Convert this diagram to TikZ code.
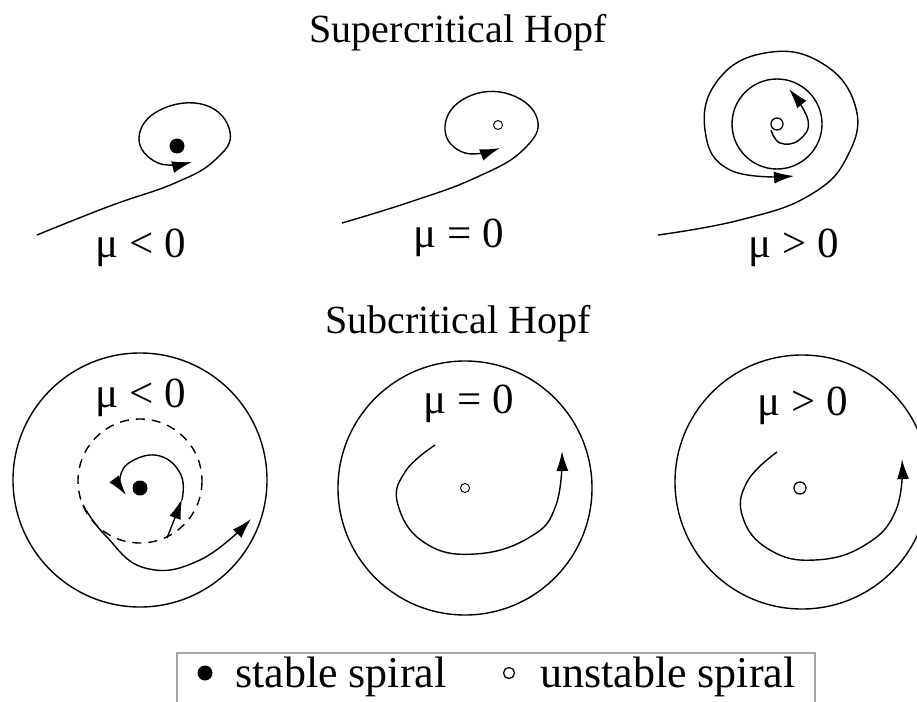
\documentclass[tikz,border=0pt]{standalone}
\usepackage{fontspec}
\setmainfont{Liberation Serif}
\usetikzlibrary{arrows.meta,positioning}

\begin{document}
\begin{tikzpicture}[x=1pt, y=-1pt,
    orbit/.style={line width=1.4pt},
    flow/.style={orbit, -{Latex[length=20pt, width=12pt]}},
    ring/.style={line width=1.4pt},
    unstablering/.style={ring, dash pattern=on 9pt off 7pt},
    stable/.style={circle, fill, inner sep=0pt, minimum size=15pt},
    unstable/.style={circle, draw, line width=1.3pt, inner sep=0pt, minimum size=12pt},
    title/.style={font=\fontsize{40}{48}\selectfont, anchor=base},
    param/.style={font=\fontsize{43}{50}\selectfont, anchor=base west, inner sep=0pt},
    key/.style={font=\fontsize{44}{52}\selectfont, anchor=base west, inner sep=0pt}
]
    \useasboundingbox (0,0) rectangle (917,701);
    \clip (0,0) rectangle (917,701);

    % supercritical row
    \node[title] (super) at (458,43) {Supercritical Hopf};

    \node[stable] (supneg) at (177,146) {};
    \draw[flow] plot[smooth, tension=0.75] coordinates {(37,235) (110,206) (175,183) (215,160) (230,132) (205,105) (160,110) (139,138) (158,163) (192,162)};
    \node[param] (supneglab) at (95,257) {μ < 0};

    \node[unstable, minimum size=9pt, line width=0.9pt] (supzero) at (498,125) {};
    \draw[flow] plot[smooth, tension=0.75] coordinates {(342,223) (410,202) (475,178) (523,150) (537,118) (505,93) (462,100) (445,130) (465,153) (500,148)};
    \node[param] (supzerolab) at (413,247) {μ = 0};

    \node[unstable] (suppos) at (777,124) {};
    \draw[ring] (777,124) circle[radius=45];
    \draw[flow] plot[smooth, tension=0.75] coordinates {(658,235) (740,220) (810,195) (848,155) (855,105) (820,62) (765,53) (718,80) (705,130) (730,170) (794,176)};
    \draw[flow] plot[smooth, tension=0.75] coordinates {(771,130) (780,143) (799,140) (808,120) (789,89)};
    \node[param] (supposlab) at (748,257) {μ > 0};

    % subcritical row
    \node[title] (sub) at (458,333) {Subcritical Hopf};

    \draw[ring] (140,480) circle[radius=127];
    \draw[unstablering] (140,481) circle[radius=62];
    \node[stable] (subneg) at (140,488) {};
    \draw[flow] plot[smooth, tension=0.75] coordinates {(167,538) (176,515) (182,499)};
    \draw[flow] plot[smooth, tension=0.75] coordinates {(182,500) (181,475) (160,456) (132,461) (120,478) (126,495)};
    \draw[flow] plot[smooth, tension=0.75] coordinates {(83,505) (105,535) (145,568) (200,560) (251,519)};
    \node[param] (subneglab) at (95,407) {μ < 0};

    \draw[ring] (465,488) circle[radius=127];
    \node[unstable, minimum size=9pt, line width=0.9pt] (subzero) at (465,488) {};
    \draw[flow] plot[smooth, tension=0.75] coordinates {(435,445) (405,472) (398,505) (425,543) (475,554) (530,537) (556,505) (562,451)};
    \node[param] (subzerolab) at (423,413) {μ = 0};

    \draw[ring] (802,482) circle[radius=127];
    \node[unstable] (subpos) at (800,488) {};
    \draw[flow] plot[smooth, tension=0.75] coordinates {(777,452) (747,482) (743,518) (770,550) (815,560) (865,545) (896,510) (902,459)};
    \node[param] (subposlab) at (757,415) {μ > 0};

    % legend
    \draw[gray!70, line width=1.2pt] (177,653) rectangle (815,720);
    \node[stable] (keystable) at (205,673) {};
    \node[key] (keystablelab) at (235,687) {stable spiral};
    \node[unstable, minimum size=11pt] (keyunstable) at (509,673) {};
    \node[key] (keyunstablelab) at (540,687) {unstable spiral};
\end{tikzpicture}
\end{document}
